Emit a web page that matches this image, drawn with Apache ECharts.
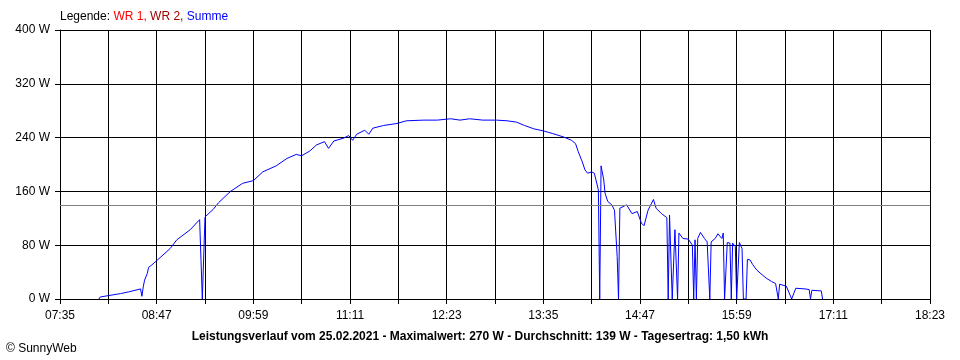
<!DOCTYPE html>
<html>
<head>
<meta charset="utf-8">
<script src="https://cdn.jsdelivr.net/npm/echarts@6/dist/echarts.min.js"></script>
<style>
html,body{margin:0;padding:0;background:#fff;}
#c{width:960px;height:360px;}
</style>
</head>
<body>
<div id="c"></div>
<script>
// Time of day (HH:MM) and total power "Summe" in W
const times = ["08:04","08:05","08:11","08:20","08:27","08:35","08:36","08:37","08:38","08:40","08:41","08:43","08:47","08:57","09:02","09:12","09:19","09:20","09:21","09:23","09:29","09:33","09:42","09:51","09:59","10:06","10:16","10:24","10:31","10:35","10:41","10:46","10:52","10:55","10:59","11:06","11:10","11:13","11:16","11:22","11:25","11:28","11:36","11:46","11:53","12:06","12:16","12:26","12:33","12:40","12:50","13:00","13:08","13:15","13:21","13:28","13:35","13:42","13:50","13:56","13:59","14:01","14:04","14:06","14:08","14:11","14:13","14:16","14:17","14:18","14:20","14:21","14:23","14:26","14:28","14:30","14:31","14:32","14:37","14:41","14:45","14:48","14:50","14:53","14:57","14:59","15:03","15:07","15:08","15:09","15:11","15:13","15:15","15:16","15:19","15:23","15:26","15:27","15:28","15:29","15:30","15:32","15:35","15:37","15:39","15:40","15:43","15:45","15:48","15:49","15:50","15:52","15:54","15:55","15:56","15:58","15:59","16:01","16:03","16:04","16:06","16:07","16:09","16:11","16:14","16:18","16:21","16:25","16:28","16:30","16:31","16:36","16:40","16:43","16:50","16:53","16:54","16:55","17:02","17:03"];
const summe = [0,3,5,8,11,15,4,18,28,38,47,50,57,75,88,103,118,59,0,122,133,143,160,172,176,189,198,209,215,213,220,229,234,224,235,239,243,236,245,251,245,254,258,261,265,266,266,268,266,268,266,266,265,263,258,253,250,246,241,236,231,219,204,192,187,189,187,162,0,198,177,157,145,140,132,63,0,135,140,127,130,113,109,132,148,135,127,121,0,125,0,103,0,98,90,89,80,0,88,0,90,99,90,85,0,85,90,97,90,98,0,84,83,0,83,78,0,84,75,0,0,59,58,51,43,36,31,26,23,0,22,19,0,16,15,14,0,13,12,0];
const averageW = 139;
const axisStart = "07:35";
const axisEnd = "18:23";
const yTicks = [0, 80, 160, 240, 320, 400];
const titleText = "Leistungsverlauf vom 25.02.2021 - Maximalwert: 270 W - Durchschnitt: 139 W - Tagesertrag: 1,50 kWh";

function toMin(t){ const p=t.split(':'); return (+p[0])*60+(+p[1]); }
function fmt(m){ const h=Math.floor(m/60), mm=m%60; return (h<10?'0':'')+h+':'+(mm<10?'0':'')+mm; }
const t0 = toMin(axisStart);
const span = toMin(axisEnd) - t0;
const seriesData = times.map((t,i)=>[toMin(t)-t0, summe[i]]);

const FONT = '"Liberation Sans", Arial, sans-serif';
const chart = echarts.init(document.getElementById('c'), null, {renderer:'canvas'});
chart.setOption({
  animation:false,
  backgroundColor:'#ffffff',
  grid:{left:60, right:30, top:30, bottom:61, containLabel:false},
  xAxis:{
    type:'value', min:0, max:span, interval:36,
    axisLine:{show:true, lineStyle:{color:'#000', width:1}},
    axisTick:{show:true, length:5, lineStyle:{color:'#000'}},
    splitLine:{show:true, lineStyle:{color:'#000', width:1}},
    axisLabel:{
      color:'#000', fontFamily:FONT, fontSize:12, margin:11,
      showMinLabel:true, showMaxLabel:true,
      formatter:function(v){ return (Math.round(v)%72===0) ? fmt(t0+Math.round(v)) : ''; }
    }
  },
  yAxis:{
    type:'value', min:yTicks[0], max:yTicks[yTicks.length-1], interval:yTicks[1]-yTicks[0],
    axisLine:{show:true, lineStyle:{color:'#000', width:1}},
    axisTick:{show:true, length:5, lineStyle:{color:'#000'}},
    splitLine:{show:true, lineStyle:{color:'#000', width:1}},
    axisLabel:{color:'#000', fontFamily:FONT, fontSize:12, margin:10, formatter:'{value} W'}
  },
  series:[{
    name:'Summe', type:'line', data:seriesData, showSymbol:false, symbol:'none',
    lineStyle:{color:'#0000ff', width:1}, itemStyle:{color:'#0000ff'},
    markLine:{
      silent:true, symbol:['none','none'], label:{show:false},
      lineStyle:{color:'#808080', width:1, type:'solid'},
      data:[{yAxis:averageW}]
    },
    z:3
  }],
  graphic:[
    {type:'text', x:60, y:17, style:{
      text:'{k|Legende: }{a|WR 1, }{b|WR 2, }{s|Summe}',
      verticalAlign:'middle',
      rich:{
        k:{fill:'#000', fontFamily:FONT, fontSize:12},
        a:{fill:'#ff0000', fontFamily:FONT, fontSize:12},
        b:{fill:'#a00000', fontFamily:FONT, fontSize:12},
        s:{fill:'#0000ff', fontFamily:FONT, fontSize:12}
      }
    }},
    {type:'text', x:480, y:337, style:{
      text:titleText, fill:'#000', fontFamily:FONT, fontSize:12, fontWeight:'bold',
      align:'center', verticalAlign:'middle'
    }},
    {type:'text', x:6, y:349, style:{
      text:'\u00A9 SunnyWeb', fill:'#000', fontFamily:FONT, fontSize:12,
      align:'left', verticalAlign:'middle'
    }}
  ]
});
</script>
</body>
</html>
